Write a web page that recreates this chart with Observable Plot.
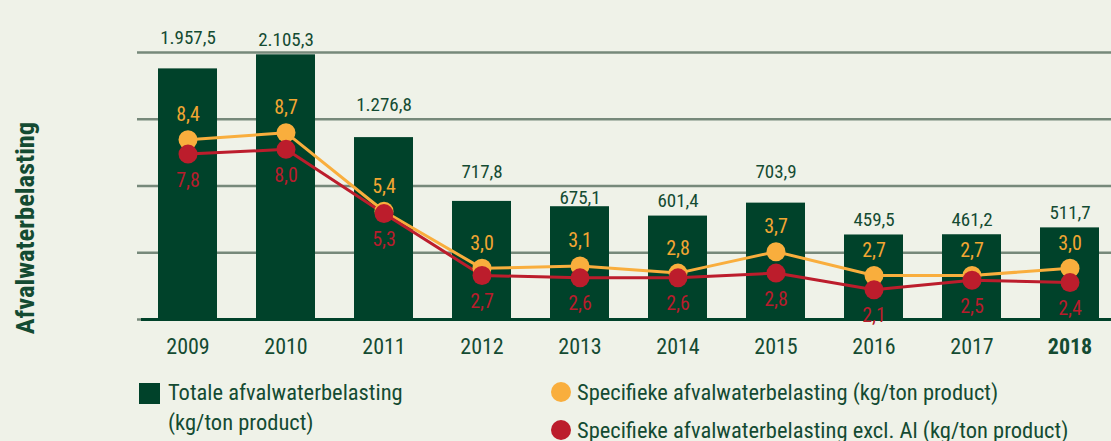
<!DOCTYPE html>
<html>
<head>
<meta charset="utf-8">
<script src="https://cdn.jsdelivr.net/npm/d3@7"></script>
<script src="https://cdn.jsdelivr.net/npm/@observablehq/plot@0.6"></script>
<style>
  html, body { margin: 0; padding: 0; background: #eff2e8; }
  body { width: 1111px; height: 441px; overflow: hidden;
    font-family: "Liberation Sans Narrow", "Roboto Condensed", "DejaVu Sans Condensed", "Liberation Sans", sans-serif;
    font-stretch: condensed; }
  #chart { position: relative; width: 1111px; height: 370px; }
  #chart svg { position: absolute; left: 0; top: 0; }
  #legend { position: relative; width: 1111px; height: 71px; color: #144b32; font-size: 22.5px; }
  #legend .sq { position: absolute; width: 21px; height: 21px; }
  #legend .dot { position: absolute; width: 20px; height: 20px; border-radius: 50%; }
  #legend .lbl { position: absolute; line-height: 30px; white-space: nowrap; }
</style>
</head>
<body>
<div id="chart"></div>
<div id="legend"></div>
<script>
// ---- data ----
const years = ["2009", "2010", "2011", "2012", "2013", "2014", "2015", "2016", "2017", "2018"];
const totaal = [1957.5, 2105.3, 1276.8, 717.8, 675.1, 601.4, 703.9, 459.5, 461.2, 511.7];
const specifiek = [8.4, 8.7, 5.4, 3.0, 3.1, 2.8, 3.7, 2.7, 2.7, 3.0];
const specifiekExclAl = [7.8, 8.0, 5.3, 2.7, 2.6, 2.6, 2.8, 2.1, 2.5, 2.4];
const seriesNames = [
  "Totale afvalwaterbelasting\n(kg/ton product)",
  "Specifieke afvalwaterbelasting (kg/ton product)",
  "Specifieke afvalwaterbelasting excl. Al (kg/ton product)"
];
const yLabel = "Afvalwaterbelasting";
const boldYear = "2018";

// ---- colours ----
const GREEN = "#00422a", TEXT = "#144b32", ORANGE = "#f9ae3d", RED = "#bc1d2c",
      ORANGE_T = "#f2a632", RED_T = "#b81c2c", GRID = "#76897a";

const nl = d3.formatLocale({decimal: ",", thousands: ".", grouping: [3], currency: ["€", ""]});
const fmt = nl.format(",.1f");

const bars = years.map((y, i) => ({year: y, total: totaal[i]}));
const lines = [
  ...years.map((y, i) => ({year: y, value: specifiek[i], series: seriesNames[1]})),
  ...years.map((y, i) => ({year: y, value: specifiekExclAl[i], series: seriesNames[2]}))
];
const sOrange = lines.filter(d => d.series === seriesNames[1]);
const sRed = lines.filter(d => d.series === seriesNames[2]);

const FONT = '"Liberation Sans Narrow", "Roboto Condensed", "DejaVu Sans Condensed", "Liberation Sans", sans-serif';
const common = {
  width: 1111, height: 370,
  marginLeft: 137, marginRight: 0, marginTop: 52, marginBottom: 51,
  style: {background: "transparent", fontFamily: FONT, overflow: "visible"}
};
const xScale = {type: "band", domain: years, range: [134, 1123], paddingInner: 0.4, paddingOuter: 0.2, axis: null, label: null};

// Layer 1: decorative grid (frame divided in quarters)
const gridLayer = Plot.plot({
  ...common,
  x: xScale,
  y: {domain: [0, 4], axis: null},
  marks: [Plot.gridY({ticks: 4, stroke: GRID, strokeOpacity: 1, strokeWidth: 2.5})]
});

// Layer 2: bars, value labels, x axis, y label
const barLayer = Plot.plot({
  ...common,
  x: xScale,
  y: {type: "pow", exponent: 0.75, domain: [0, 2130], axis: null},
  marks: [
    Plot.barY(bars, {x: "year", y: "total", fill: GREEN}),
    Plot.ruleY([0], {stroke: GREEN, strokeWidth: 3, insetLeft: 4}),
    Plot.text(bars, {x: "year", y: "total", text: d => fmt(d.total), dy: -15, fill: TEXT, fontSize: 19}),
    Plot.axisX(years.filter(y => y !== boldYear), {tickSize: 0, tickPadding: 19, fontSize: 22, color: TEXT, label: null}),
    Plot.axisX([boldYear], {tickSize: 0, tickPadding: 19, fontSize: 22, color: TEXT, fontWeight: "bold", label: null}),
    Plot.text([yLabel], {frameAnchor: "left", textAnchor: "middle", rotate: -90, dx: -112, dy: 42, fontSize: 26.5, fontWeight: "bold", fill: TEXT})
  ]
});

// Layer 3: specific load lines
const lineLayer = Plot.plot({
  ...common,
  x: xScale,
  y: {domain: [0.85, 12.07], axis: null},
  color: {domain: [seriesNames[1], seriesNames[2]], range: [ORANGE, RED]},
  marks: [
    Plot.line(lines, {x: "year", y: "value", z: "series", stroke: "series", strokeWidth: 3}),
    Plot.dot(sOrange, {x: "year", y: "value", r: 9.5, fill: ORANGE}),
    Plot.dot(sRed, {x: "year", y: "value", r: 9.5, fill: RED}),
    Plot.text(sOrange, {x: "year", y: "value", text: d => fmt(d.value), dy: -25, fill: ORANGE_T, fontSize: 20}),
    Plot.text(sRed, {x: "year", y: "value", text: d => fmt(d.value), dy: 26, fill: RED_T, fontSize: 20})
  ]
});

const chart = document.getElementById("chart");
chart.append(gridLayer, barLayer, lineLayer);

// Keep bar value labels off the grid lines (as in the original): put a label just
// below the line if it still clears its bar, otherwise lift it just above the line.
const cRect = chart.getBoundingClientRect();
const gridYs = Array.from(gridLayer.querySelectorAll("line")).map(l => {
  const r = l.getBoundingClientRect(); return r.top + r.height / 2 - cRect.top;
});
const barRects = Array.from(barLayer.querySelectorAll("rect")).map(r => r.getBoundingClientRect());
const valueTexts = new Set(totaal.map(fmt));
Array.from(barLayer.querySelectorAll("text"))
  .filter(t => valueTexts.has(t.textContent))
  .forEach(t => {
    const r = t.getBoundingClientRect();
    const cx = r.left + r.width / 2;
    const glyphTop = r.top - cRect.top + 4, glyphBottom = r.bottom - cRect.top - 4.5;
    const hit = gridYs.find(g => g > glyphTop - 3 && g < glyphBottom + 3);
    if (hit === undefined) return;
    const bar = barRects.find(b => Math.abs(b.left + b.width / 2 - cx) < 6);
    const barTop = bar ? bar.top - cRect.top : Infinity;
    const h = glyphBottom - glyphTop;
    let shift;
    if (hit + 4 + h <= barTop - 1) shift = (hit + 4) - glyphTop;
    else shift = (hit - 8) - glyphBottom;
    t.setAttribute("transform", (t.getAttribute("transform") || "") + ` translate(0,${shift})`);
  });

// Legend
const legend = document.getElementById("legend");
legend.innerHTML = `
  <div class="sq" style="left:139px; top:13px; background:${GREEN}"></div>
  <div class="lbl" style="left:168px; top:7px">${seriesNames[0].replace("\n", "<br>")}</div>
  <div class="dot" style="left:551px; top:12px; background:${ORANGE}"></div>
  <div class="lbl" style="left:577px; top:7px">${seriesNames[1]}</div>
  <div class="dot" style="left:551px; top:50px; background:${RED}"></div>
  <div class="lbl" style="left:577px; top:45px">${seriesNames[2]}</div>
`;
</script>
</body>
</html>
